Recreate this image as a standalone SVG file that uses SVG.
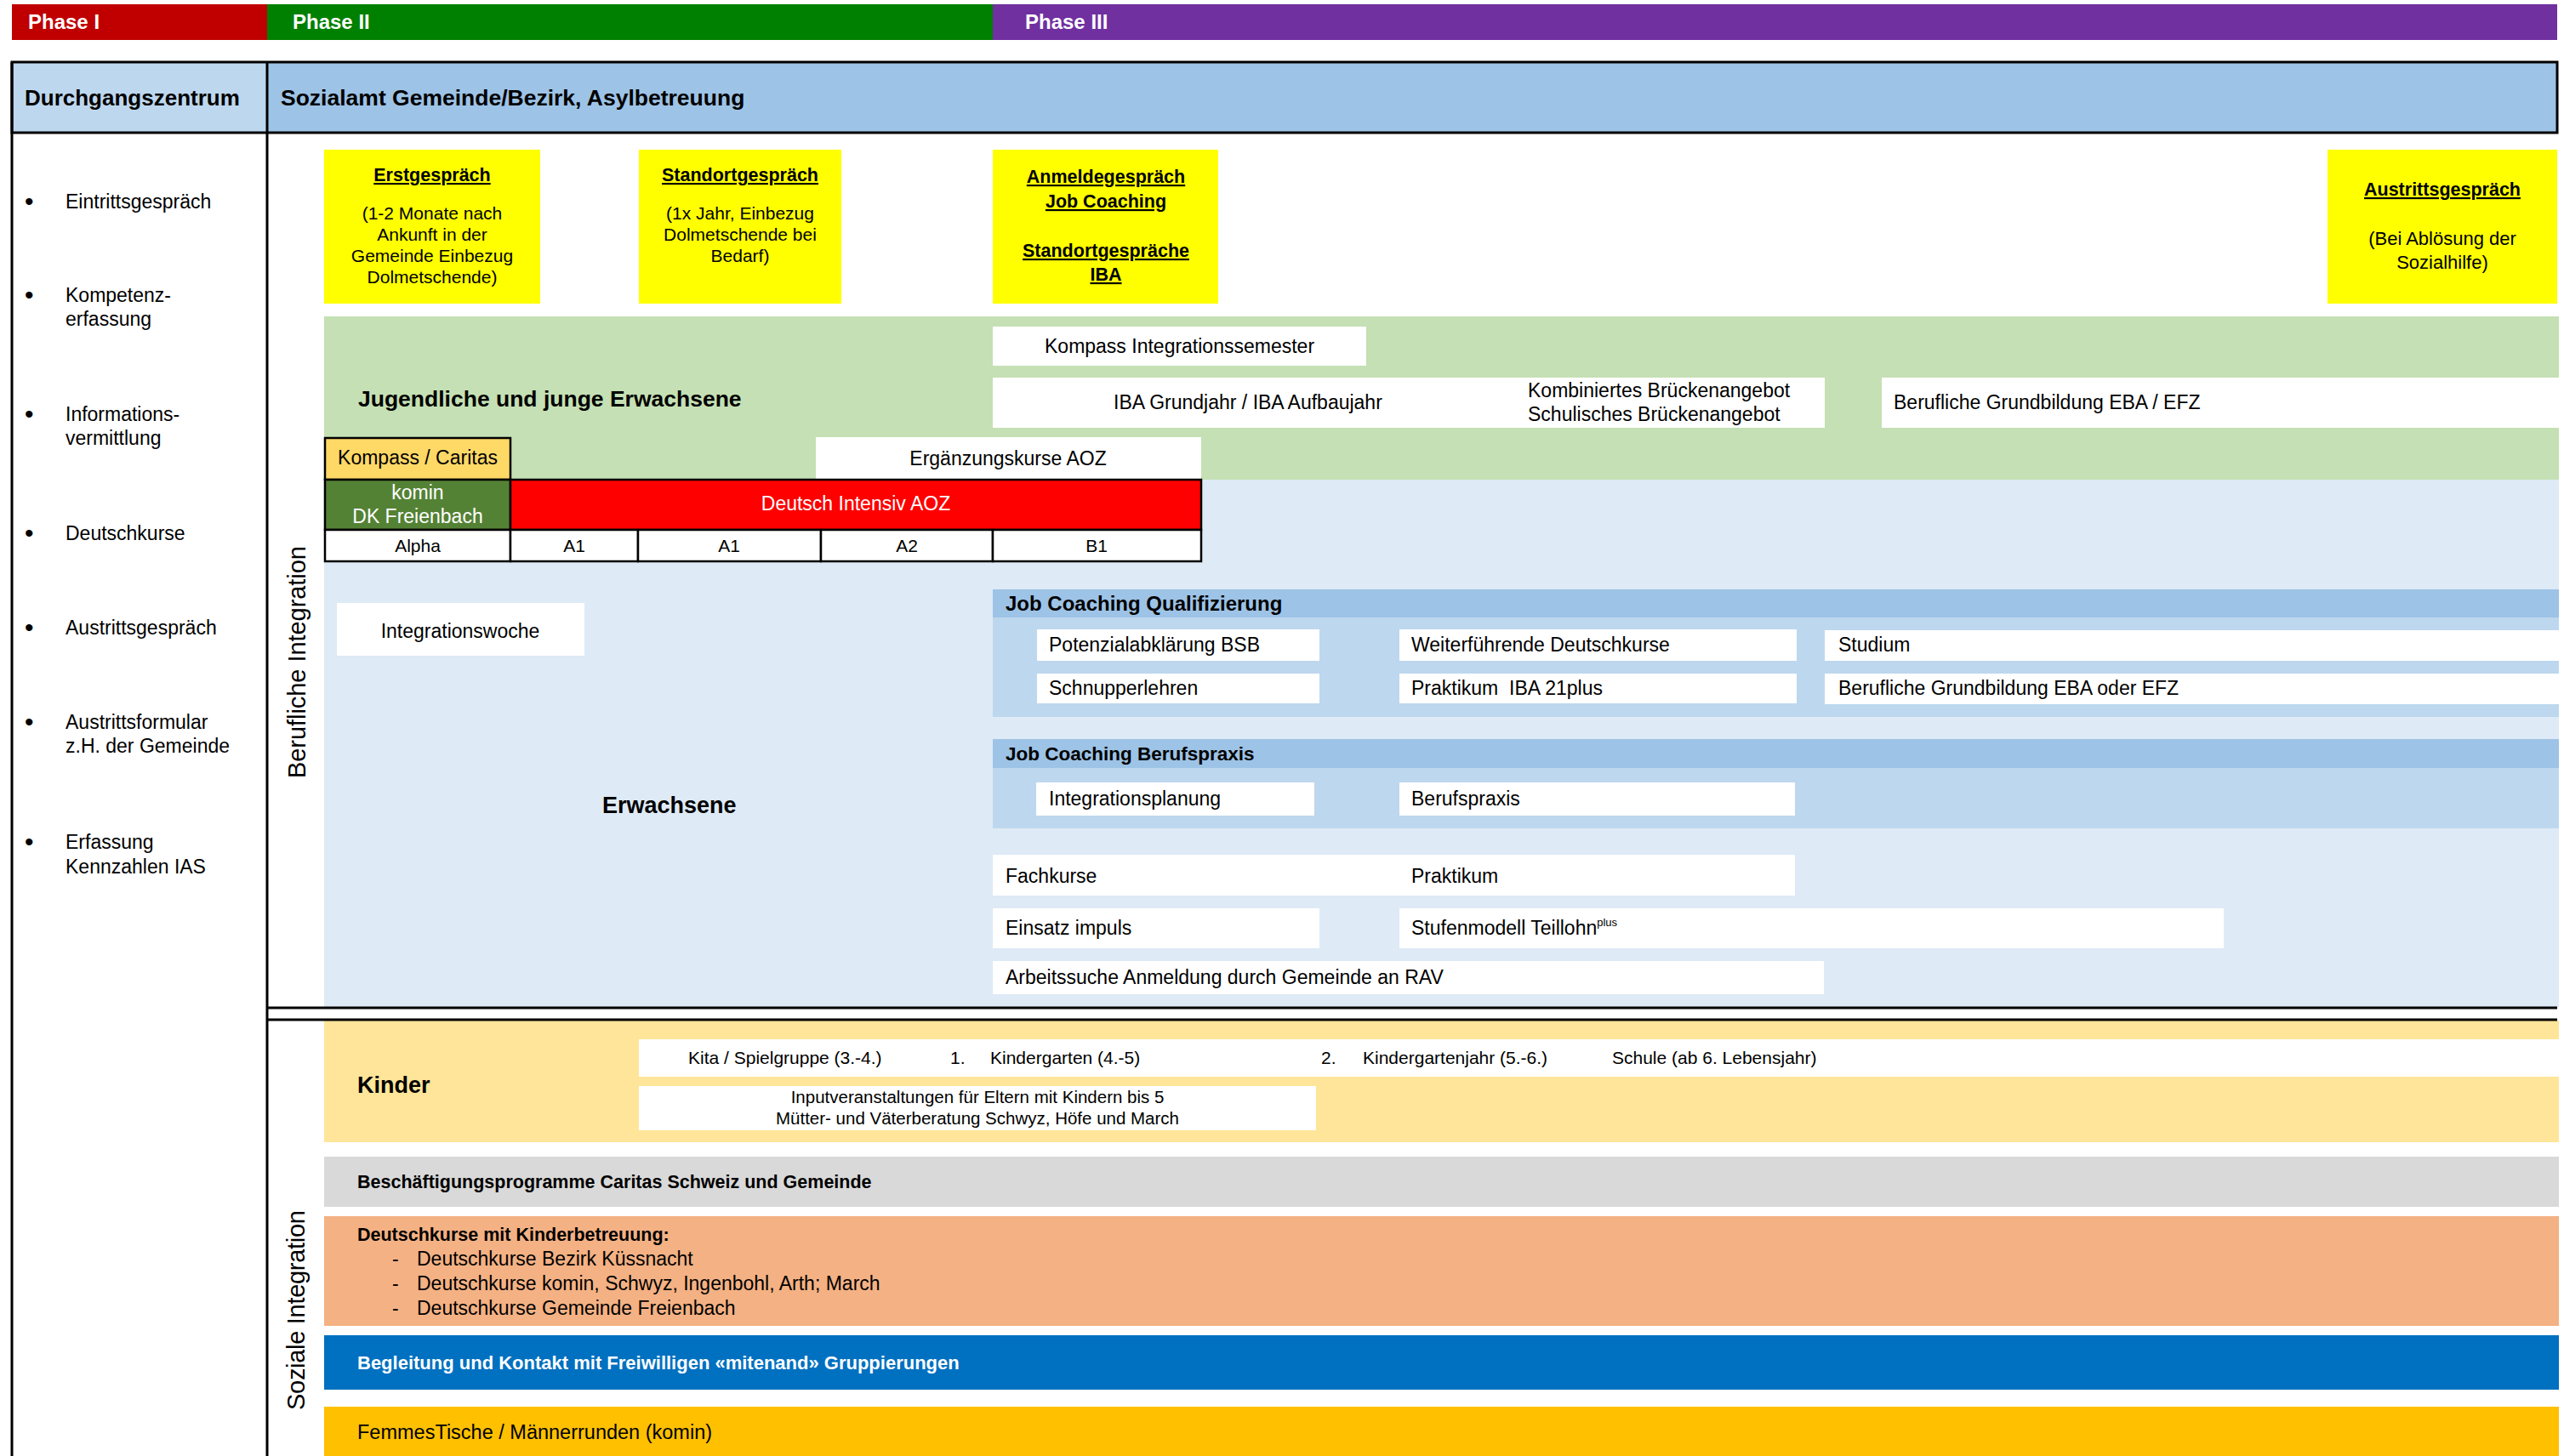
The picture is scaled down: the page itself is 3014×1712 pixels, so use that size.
<svg xmlns="http://www.w3.org/2000/svg" width="3014" height="1712" viewBox="0 0 3014 1712">
<style>
text{font-family:"Liberation Sans",Arial,sans-serif;font-size:23px;fill:#000}
.b{font-weight:bold}
.u{text-decoration:underline}
.m{text-anchor:middle}
.w{fill:#fff}
.s{font-size:21px}
.xs{font-size:20.5px}
.h{font-size:26px;font-weight:bold}
.big{font-size:27px;font-weight:bold}
.vt{font-size:29px;letter-spacing:1px;text-anchor:middle}
.bul{font-size:30px}
.box{fill:#fff}
.cell{stroke:#000;stroke-width:2.5}
.line{stroke:#000;stroke-width:3;fill:none}
</style>
<rect width="3014" height="1712" fill="#fff"/>

<g id="phases">
<rect x="14" y="5" width="300" height="42" fill="#C00000"/>
<rect x="314" y="5" width="853" height="42" fill="#008000"/>
<rect x="1167" y="5" width="1839" height="42" fill="#7030A0"/>
<text x="33" y="34" class="b w" style="font-size:24px">Phase I</text>
<text x="344" y="34" class="b w" style="font-size:24px">Phase II</text>
<text x="1205" y="34" class="b w" style="font-size:24px">Phase III</text>
</g>

<g id="header">
<rect x="14" y="73" width="300" height="83" fill="#BDD7EE"/>
<rect x="314" y="73" width="2692" height="83" fill="#9DC3E6"/>
<text x="29" y="124" class="h">Durchgangszentrum</text>
<text x="330" y="124" class="h" style="font-size:26.5px">Sozialamt Gemeinde/Bezirk, Asylbetreuung</text>
</g>

<g id="left-column">
<text x="29" y="247" class="bul">•</text><text x="77" y="245">Eintrittsgespräch</text>
<text x="29" y="357" class="bul">•</text><text x="77" y="355">Kompetenz-</text><text x="77" y="383">erfassung</text>
<text x="29" y="497" class="bul">•</text><text x="77" y="495">Informations-</text><text x="77" y="523">vermittlung</text>
<text x="29" y="637" class="bul">•</text><text x="77" y="635">Deutschkurse</text>
<text x="29" y="748" class="bul">•</text><text x="77" y="746">Austrittsgespräch</text>
<text x="29" y="859" class="bul">•</text><text x="77" y="857">Austrittsformular</text><text x="77" y="885">z.H. der Gemeinde</text>
<text x="29" y="1000" class="bul">•</text><text x="77" y="998">Erfassung</text><text x="77" y="1027">Kennzahlen IAS</text>
</g>

<g id="section-labels">
<text class="vt" transform="translate(359,778) rotate(-90)" textLength="274">Berufliche Integration</text>
<text class="vt" transform="translate(358,1540) rotate(-90)" textLength="236">Soziale Integration</text>
</g>

<g id="backgrounds">
<rect x="381" y="372" width="2627" height="192" fill="#C5E0B4"/>
<rect x="381" y="564" width="2627" height="620" fill="#DEEAF6"/>
</g>

<g id="erstgespraech">
<rect x="381" y="176" width="254" height="181" fill="#FFFF00"/>
<text x="508" y="213" class="b u m" style="font-size:21.5px">Erstgespräch</text>
<text x="508" y="258" class="s m">(1-2 Monate nach</text>
<text x="508" y="283" class="s m">Ankunft in der</text>
<text x="508" y="308" class="s m">Gemeinde Einbezug</text>
<text x="508" y="333" class="s m">Dolmetschende)</text>
</g>
<g id="standortgespraech">
<rect x="751" y="176" width="238" height="181" fill="#FFFF00"/>
<text x="870" y="213" class="b u m" style="font-size:21.5px">Standortgespräch</text>
<text x="870" y="258" class="s m">(1x Jahr, Einbezug</text>
<text x="870" y="283" class="s m">Dolmetschende bei</text>
<text x="870" y="308" class="s m">Bedarf)</text>
</g>
<g id="anmeldegespraech">
<rect x="1167" y="176" width="265" height="181" fill="#FFFF00"/>
<text x="1300" y="215" class="b u m" style="font-size:21.5px">Anmeldegespräch</text>
<text x="1300" y="244" class="b u m" style="font-size:21.5px">Job Coaching</text>
<text x="1300" y="302" class="b u m" style="font-size:21.5px">Standortgespräche</text>
<text x="1300" y="330" class="b u m" style="font-size:21.5px">IBA</text>
</g>
<g id="austrittsgespraech">
<rect x="2736" y="176" width="270" height="181" fill="#FFFF00"/>
<text x="2871" y="230" class="b u m" style="font-size:21.5px">Austrittsgespräch</text>
<text x="2871" y="288" class="m" style="font-size:22px">(Bei Ablösung der</text>
<text x="2871" y="316" class="m" style="font-size:22px">Sozialhilfe)</text>
</g>

<g id="jugendliche">
<text x="421" y="478" class="big" style="font-size:26.5px">Jugendliche und junge Erwachsene</text>
</g>
<g id="kompass-integrationssemester">
<rect x="1167" y="384" width="439" height="46" class="box"/>
<text x="1228" y="415">Kompass Integrationssemester</text>
</g>
<g id="iba-brueckenangebot">
<rect x="1167" y="444" width="978" height="59" class="box"/>
<text x="1309" y="481">IBA Grundjahr / IBA Aufbaujahr</text>
<text x="1796" y="467">Kombiniertes Brückenangebot</text>
<text x="1796" y="495">Schulisches Brückenangebot</text>
</g>
<g id="grundbildung-eba-efz">
<rect x="2212" y="444" width="796" height="59" class="box"/>
<text x="2226" y="481">Berufliche Grundbildung EBA / EFZ</text>
</g>
<g id="ergaenzungskurse">
<rect x="959" y="514" width="453" height="50" class="box"/>
<text x="1185" y="547" class="m">Ergänzungskurse AOZ</text>
</g>

<g id="deutschkurse-grid">
<rect x="382" y="515" width="218" height="49" fill="#FFD966" class="cell"/>
<text x="491" y="546" class="m">Kompass / Caritas</text>
<rect x="382" y="564" width="218" height="59" fill="#548235" class="cell"/>
<text x="491" y="587" class="m w">komin</text>
<text x="491" y="615" class="m w">DK Freienbach</text>
<rect x="600" y="564" width="812" height="59" fill="#FF0000" class="cell"/>
<text x="1006" y="600" class="m w">Deutsch Intensiv AOZ</text>
<rect x="382" y="623" width="218" height="37" fill="#fff" class="cell"/>
<rect x="600" y="623" width="150" height="37" fill="#fff" class="cell"/>
<rect x="750" y="623" width="215" height="37" fill="#fff" class="cell"/>
<rect x="965" y="623" width="202" height="37" fill="#fff" class="cell"/>
<rect x="1167" y="623" width="245" height="37" fill="#fff" class="cell"/>
<text x="491" y="649" class="m s">Alpha</text>
<text x="675" y="649" class="m s">A1</text>
<text x="857" y="649" class="m s">A1</text>
<text x="1066" y="649" class="m s">A2</text>
<text x="1289" y="649" class="m s">B1</text>
</g>

<g id="integrationswoche">
<rect x="396" y="709" width="291" height="62" class="box"/>
<text x="541" y="750" class="m">Integrationswoche</text>
</g>
<g id="erwachsene">
<text x="708" y="956" class="big">Erwachsene</text>
</g>

<g id="job-coaching-qualifizierung">
<rect x="1167" y="693" width="1841" height="33" fill="#9DC3E6"/>
<rect x="1167" y="726" width="1841" height="117" fill="#BDD7EE"/>
<text x="1182" y="718" class="b" style="font-size:24px">Job Coaching Qualifizierung</text>
<rect x="1219" y="740" width="332" height="37" class="box"/>
<text x="1233" y="766">Potenzialabklärung BSB</text>
<rect x="1645" y="740" width="467" height="37" class="box"/>
<text x="1659" y="766">Weiterführende Deutschkurse</text>
<rect x="2145" y="741" width="863" height="36" class="box"/>
<text x="2161" y="766">Studium</text>
<rect x="1219" y="792" width="332" height="35" class="box"/>
<text x="1233" y="817">Schnupperlehren</text>
<rect x="1645" y="792" width="467" height="35" class="box"/>
<text x="1659" y="817" xml:space="preserve">Praktikum  IBA 21plus</text>
<rect x="2145" y="792" width="863" height="36" class="box"/>
<text x="2161" y="817">Berufliche Grundbildung EBA oder EFZ</text>
</g>

<g id="job-coaching-berufspraxis">
<rect x="1167" y="869" width="1841" height="34" fill="#9DC3E6"/>
<rect x="1167" y="903" width="1841" height="71" fill="#BDD7EE"/>
<text x="1182" y="894" class="b" style="font-size:22.5px">Job Coaching Berufspraxis</text>
<rect x="1218" y="920" width="327" height="39" class="box"/>
<text x="1233" y="947">Integrationsplanung</text>
<rect x="1645" y="920" width="465" height="39" class="box"/>
<text x="1659" y="947">Berufspraxis</text>
</g>

<g id="fachkurse-praktikum">
<rect x="1167" y="1005" width="943" height="48" class="box"/>
<text x="1182" y="1038">Fachkurse</text>
<text x="1659" y="1038">Praktikum</text>
</g>
<g id="einsatz-impuls">
<rect x="1167" y="1068" width="384" height="47" class="box"/>
<text x="1182" y="1099">Einsatz impuls</text>
</g>
<g id="stufenmodell">
<rect x="1645" y="1068" width="969" height="47" class="box"/>
<text x="1659" y="1099">Stufenmodell Teillohn<tspan dy="-10" style="font-size:13px">plus</tspan></text>
</g>
<g id="arbeitssuche">
<rect x="1167" y="1130" width="977" height="39" class="box"/>
<text x="1182" y="1157">Arbeitssuche Anmeldung durch Gemeinde an RAV</text>
</g>

<g id="kinder">
<rect x="381" y="1200" width="2627" height="143" fill="#FFE599"/>
<text x="420" y="1285" class="big">Kinder</text>
<rect x="751" y="1222" width="2257" height="44" class="box"/>
<text x="809" y="1251" class="s">Kita / Spielgruppe (3.-4.)</text>
<text x="1117" y="1251" class="s">1.</text>
<text x="1164" y="1251" class="s">Kindergarten (4.-5)</text>
<text x="1553" y="1251" class="s">2.</text>
<text x="1602" y="1251" class="s">Kindergartenjahr (5.-6.)</text>
<text x="1895" y="1251" class="s">Schule (ab 6. Lebensjahr)</text>
<rect x="751" y="1277" width="796" height="52" class="box"/>
<text x="1149" y="1297" class="m xs">Inputveranstaltungen für Eltern mit Kindern bis 5</text>
<text x="1149" y="1322" class="m xs">Mütter- und Väterberatung Schwyz, Höfe und March</text>
</g>

<g id="beschaeftigungsprogramme">
<rect x="381" y="1360" width="2627" height="59" fill="#D9D9D9"/>
<text x="420" y="1397" class="b" style="font-size:21.5px">Beschäftigungsprogramme Caritas Schweiz und Gemeinde</text>
</g>
<g id="deutschkurse-kinderbetreuung">
<rect x="381" y="1430" width="2627" height="129" fill="#F4B183"/>
<text x="420" y="1459" class="b" style="font-size:21.5px">Deutschkurse mit Kinderbetreuung:</text>
<text x="461" y="1488">-</text><text x="490" y="1488">Deutschkurse Bezirk Küssnacht</text>
<text x="461" y="1517">-</text><text x="490" y="1517">Deutschkurse komin, Schwyz, Ingenbohl, Arth; March</text>
<text x="461" y="1546">-</text><text x="490" y="1546">Deutschkurse Gemeinde Freienbach</text>
</g>
<g id="begleitung">
<rect x="381" y="1570" width="2627" height="64" fill="#0070C0"/>
<text x="420" y="1610" class="b w" style="font-size:22px">Begleitung und Kontakt mit Freiwilligen «mitenand» Gruppierungen</text>
</g>
<g id="femmestische">
<rect x="381" y="1654" width="2627" height="58" fill="#FFC000"/>
<text x="420" y="1692" style="font-size:23.5px">FemmesTische / Männerrunden (komin)</text>
</g>

<g id="frame">
<rect x="14" y="73" width="2992" height="83" class="line"/>
<line x1="14" y1="73" x2="14" y2="1712" class="line"/>
<line x1="314" y1="73" x2="314" y2="1712" class="line"/>
<line x1="314" y1="1185" x2="3006" y2="1185" class="line"/>
<line x1="314" y1="1199" x2="3006" y2="1199" class="line"/>
</g>
<g id="connectors"/>
</svg>
